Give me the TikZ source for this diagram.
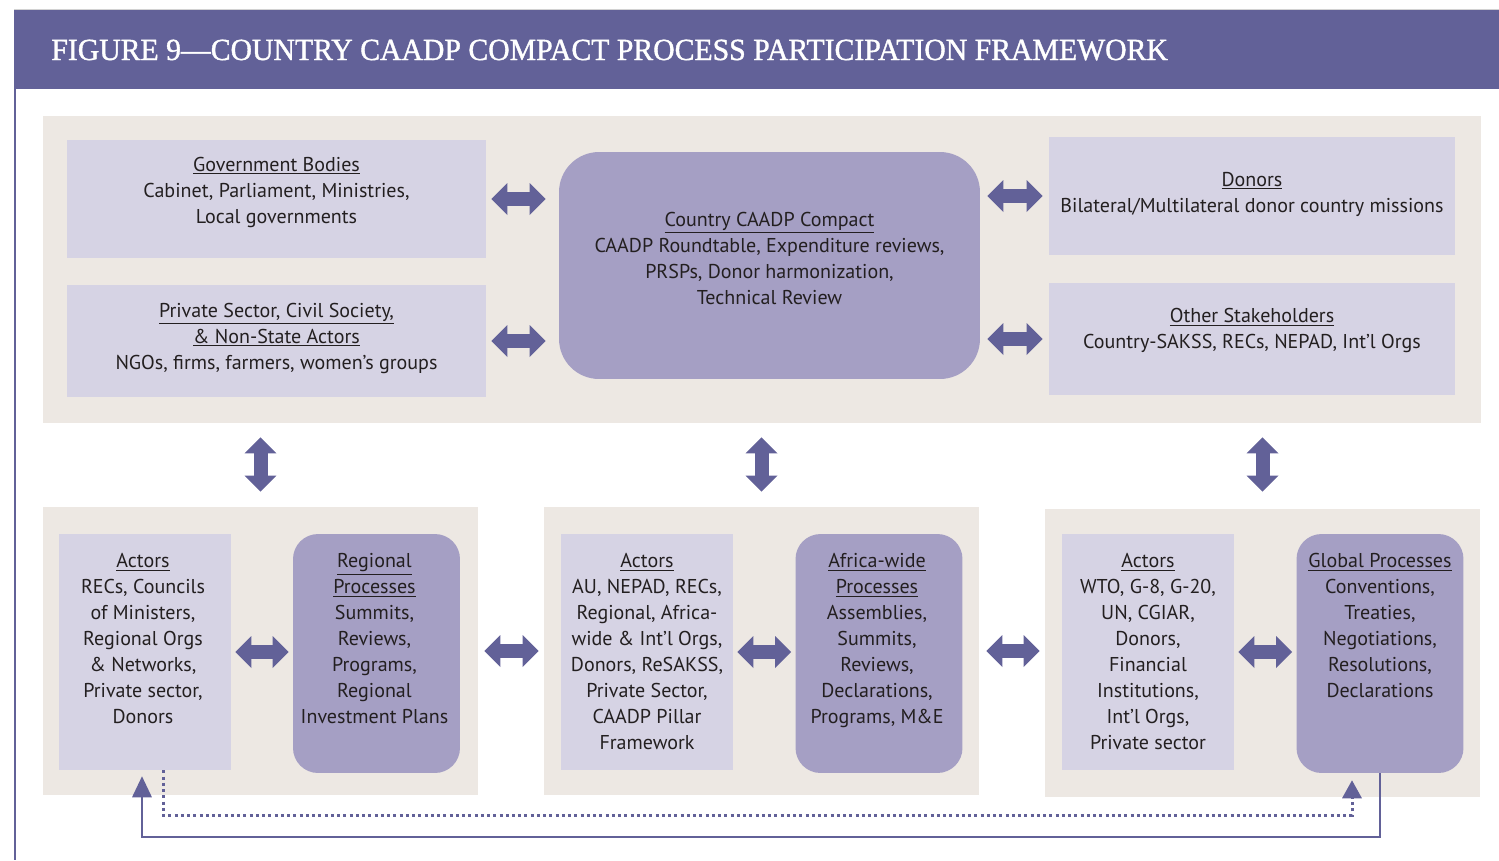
\documentclass[tikz,border=0pt]{standalone}
\usepackage{fontspec}
\setmainfont{PT Sans}
\newfontfamily\titlefont[FakeBold=1.2,FakeStretch=0.967]{Liberation Serif}
\usetikzlibrary{arrows.meta,positioning}

\definecolor{headblue}{RGB}{98,97,152}
\definecolor{panelgrey}{RGB}{237,232,227}
\definecolor{lightlilac}{RGB}{214,211,228}
\definecolor{darklilac}{RGB}{165,159,196}
\definecolor{inkblack}{RGB}{35,31,32}

\begin{document}
\begin{tikzpicture}[
    x=0.02cm, y=-0.02cm,
    every node/.style={text=inkblack, font=\fontsize{11.4}{14.8}\selectfont},
    panel/.style={fill=panelgrey, inner sep=0pt},
    light box/.style={fill=lightlilac, inner sep=0pt},
    dark box/.style={fill=darklilac, inner sep=0pt, rounded corners=0.5cm},
    box text/.style={inner sep=0pt, align=center},
    fat arrow/.style={draw=headblue, line width=0.28cm,
        {Triangle[width=0.64cm,length=0.32cm,line width=0pt]}-{Triangle[width=0.64cm,length=0.32cm,line width=0pt]},
        shorten <=0.1cm, shorten >=0.1cm},
    loop line/.style={draw=headblue, line width=0.05cm,
        -{Triangle[width=0.4cm,length=0.42cm,line width=0pt]}},
    dot line/.style={draw=headblue, line width=0.06cm, dash pattern=on 0.06cm off 0.065cm,
        -{Triangle[width=0.4cm,length=0.36cm,line width=0pt]}}
    ]
\useasboundingbox (0,0) rectangle (1499,860);

% header band and frame
\fill[headblue] (14,10) rectangle (1499,89);
\draw[gray!35, line width=0.4pt] (14,9.5) -- (1499,9.5);
\draw[headblue, line width=0.05cm] (15,89) -- (15,860);
\node[anchor=base west, inner sep=0pt, text=white, font=\titlefont\fontsize{17.5}{20}\selectfont] (title)
    at (51,60) {FIGURE 9—COUNTRY CAADP COMPACT PROCESS PARTICIPATION FRAMEWORK};

% country level
\node[panel, minimum width=28.76cm, minimum height=6.14cm] (top) at (762,269.5) {};

\node[light box, minimum width=8.38cm, minimum height=2.36cm] (gov) at (276.5,199) {};
\node[light box, minimum width=8.38cm, minimum height=2.24cm] (priv) at (276.5,341) {};
\node[dark box, rounded corners=0.8cm, minimum width=8.42cm, minimum height=4.54cm] (compact) at (769.5,265.5) {};
\node[light box, minimum width=8.12cm, minimum height=2.36cm] (donors) at (1252,196) {};
\node[light box, minimum width=8.12cm, minimum height=2.24cm] (other) at (1252,339) {};

\node[box text] at (276.5,192)
    {\underline{Government Bodies}\\Cabinet, Parliament, Ministries,\\Local governments};
\node[box text] at (276.5,338)
    {\underline{Private Sector, Civil Society,}\\\underline{\& Non-State Actors}\\NGOs, firms, farmers, women’s groups};
\node[box text] at (769.5,258)
    {\underline{Country CAADP Compact}\\CAADP Roundtable, Expenditure reviews,\\PRSPs, Donor harmonization,\\Technical Review};
\node[box text] at (1252,194)
    {\underline{Donors}\\Bilateral/Multilateral donor country missions};
\node[box text] at (1252,330.5)
    {\underline{Other Stakeholders}\\Country-SAKSS, RECs, NEPAD, Int’l Orgs};

\draw[fat arrow, shorten >=0.26cm] (gov.east) -- (gov.east -| compact.west);
\draw[fat arrow, shorten >=0.26cm] (priv.east) -- (priv.east -| compact.west);
\draw[fat arrow, shorten <=0.14cm, shorten >=0.12cm] (donors.west -| compact.east) -- (donors.west);
\draw[fat arrow, shorten <=0.14cm, shorten >=0.12cm] (other.west -| compact.east) -- (other.west);

% regional, continental and global levels
\node[panel, minimum width=8.7cm, minimum height=5.76cm] (panL) at (260.5,651) {};
\node[panel, minimum width=8.7cm, minimum height=5.76cm] (panM) at (761.5,651) {};
\node[panel, minimum width=8.7cm, minimum height=5.76cm] (panR) at (1262.5,653) {};

\node[light box, minimum width=3.44cm, minimum height=4.72cm] (actL) at (145,652) {};
\node[dark box, minimum width=3.34cm, minimum height=4.78cm] (regL) at (376.5,653.5) {};
\node[light box, minimum width=3.44cm, minimum height=4.72cm] (actM) at (647,652) {};
\node[dark box, minimum width=3.34cm, minimum height=4.78cm] (afrM) at (879,653.5) {};
\node[light box, minimum width=3.44cm, minimum height=4.72cm] (actR) at (1148,652) {};
\node[dark box, minimum width=3.34cm, minimum height=4.78cm] (globR) at (1380,653.5) {};

\node[box text, below=0.39cm of actL.north, xshift=-0.04cm]
    {\underline{Actors}\\RECs, Councils\\of Ministers,\\Regional Orgs\\\& Networks,\\Private sector,\\Donors};
\node[box text, below=0.39cm of regL.north, xshift=-0.04cm]
    {\underline{Regional}\\\underline{Processes}\\Summits,\\Reviews,\\Programs,\\Regional\\Investment Plans};
\node[box text, below=0.39cm of actM.north]
    {\underline{Actors}\\AU, NEPAD, RECs,\\Regional, Africa-\\wide \& Int’l Orgs,\\Donors, ReSAKSS,\\Private Sector,\\CAADP Pillar\\Framework};
\node[box text, below=0.39cm of afrM.north, xshift=-0.04cm]
    {\underline{Africa-wide}\\\underline{Processes}\\Assemblies,\\Summits,\\Reviews,\\Declarations,\\Programs, M\&E};
\node[box text, below=0.39cm of actR.north]
    {\underline{Actors}\\WTO, G-8, G-20,\\UN, CGIAR,\\Donors,\\Financial\\Institutions,\\Int’l Orgs,\\Private sector};
\node[box text, below=0.39cm of globR.north]
    {\underline{Global Processes}\\Conventions,\\Treaties,\\Negotiations,\\Resolutions,\\Declarations};

\draw[fat arrow, shorten <=0.08cm, shorten >=0.08cm] (actL.east) -- (actL.east -| regL.west);
\draw[fat arrow, shorten <=0.08cm, shorten >=0.08cm] (actM.east) -- (actM.east -| afrM.west);
\draw[fat arrow, shorten <=0.08cm, shorten >=0.08cm] (actR.east) -- (actR.east -| globR.west);
\draw[fat arrow, shorten <=0.12cm, shorten >=0.1cm] (panL.east) -- (panL.east -| panM.west);
\draw[fat arrow, shorten <=0.14cm, shorten >=0.1cm] (panM.east) -- (panM.east -| panR.west);

% links between the levels
\draw[fat arrow, shorten <=0.28cm, shorten >=0.3cm] (panL.north |- top.south) -- (panL.north);
\draw[fat arrow, shorten <=0.28cm, shorten >=0.3cm, xshift=0.03cm] (panM.north |- top.south) -- (panM.north);
\draw[fat arrow, shorten <=0.28cm, shorten >=0.34cm, xshift=0.05cm] (panR.north |- top.south) -- (panR.north);

% feedback loops
\coordinate (loopcorner) at (142,837);
\coordinate (dotstart) at (163,815);
\coordinate (dotend) at (1352,815);
\draw[loop line, shorten >=0.12cm] (globR.south) |- (loopcorner) -- (loopcorner |- actL.south);
\draw[dot line, shorten >=0.14cm] (actL.south -| dotstart) -- (dotstart) -- (dotend) -- (dotend |- globR.south);

\end{tikzpicture}
\end{document}
